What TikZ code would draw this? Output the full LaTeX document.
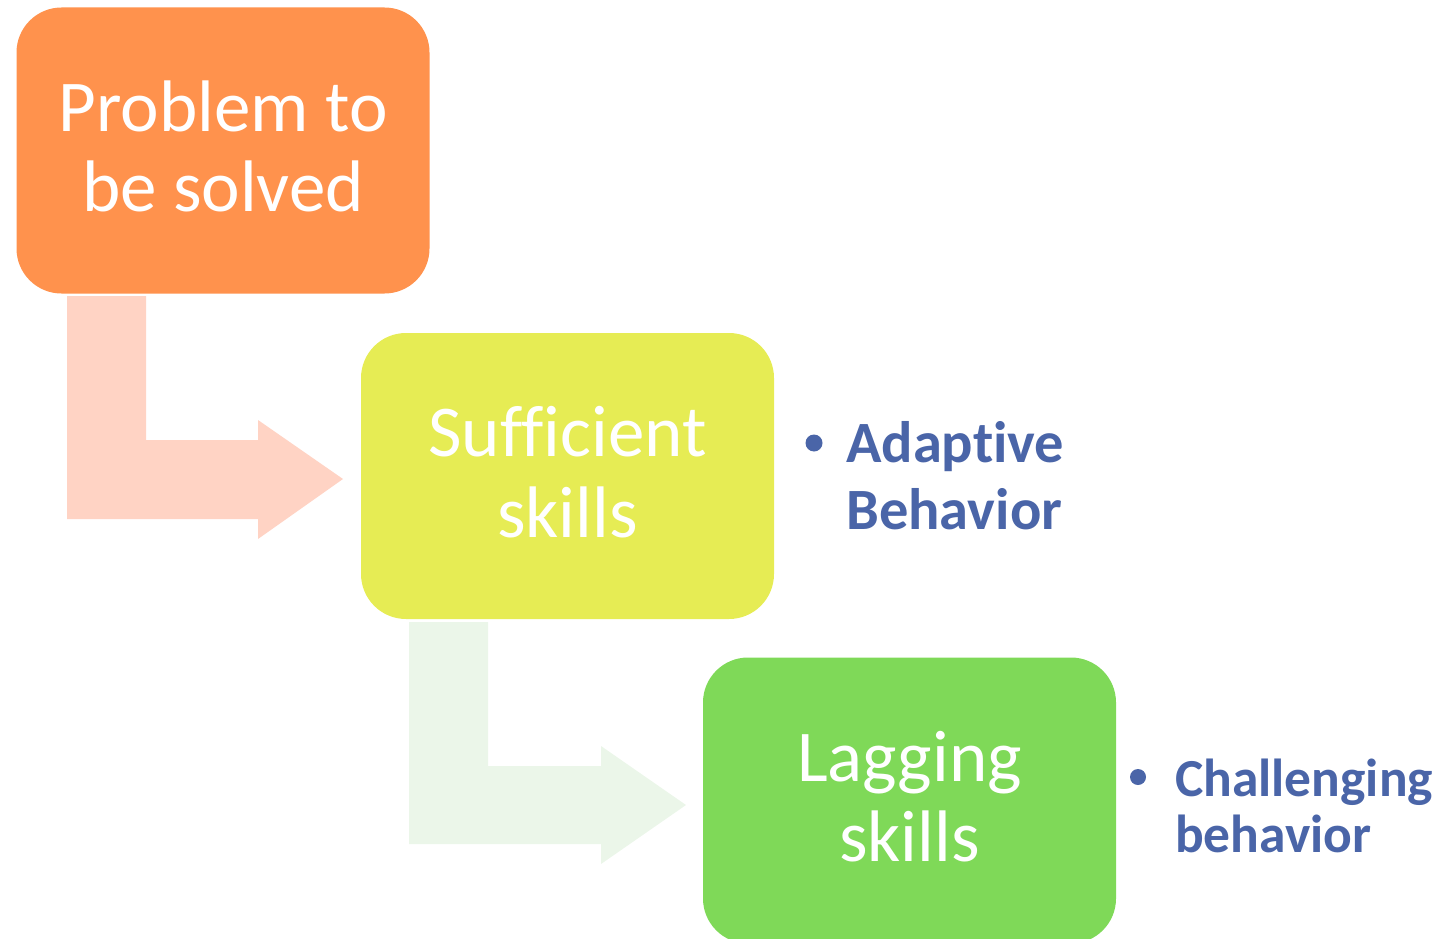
\documentclass[tikz,border=0pt]{standalone}
\usepackage{fontspec}
\setmainfont{Carlito}[Ligatures=NoCommon]
\definecolor{boxorange}{RGB}{255,146,77}
\definecolor{boxyellow}{RGB}{230,236,84}
\definecolor{boxgreen}{RGB}{127,217,88}
\definecolor{arrowpeach}{RGB}{255,211,196}
\definecolor{arrowmint}{RGB}{235,246,233}
\definecolor{itemblue}{RGB}{74,101,168}
\tikzset{
  stagebox/.style={rectangle, rounded corners=45pt, minimum width=413pt,
    minimum height=286pt, inner sep=0pt},
  stagetext/.style={inner sep=0pt, text=white, align=center, yshift=4pt,
    font=\fontsize{73}{80.5}\selectfont},
  itemtext/.style={anchor=base west, inner sep=0pt, text=itemblue,
    font=\bfseries\fontsize{58.5}{66}\selectfont},
  smallitem/.style={itemtext, font=\bfseries\fontsize{53.5}{57}\selectfont},
  itemdot/.style={circle, fill=itemblue, minimum size=17pt, inner sep=0pt},
}
\begin{document}
\begin{tikzpicture}[x=1pt,y=-1pt]
\useasboundingbox (0,0) rectangle (1443,939);
\clip (0,0) rectangle (1443,939);

% bent block arrows between the stages
\fill[arrowpeach] (67,296) -- (146,296) -- (146,440) -- (258,440) -- (258,420)
  -- (343,479) -- (258,539) -- (258,519) -- (67,519) -- cycle;
\fill[arrowmint] (409,622) -- (488,622) -- (488,766) -- (601,766) -- (601,746)
  -- (686,805) -- (601,864) -- (601,844) -- (409,844) -- cycle;

% stages
\node[stagebox, fill=boxorange] (problem) at (223,150.5) {};
\node[stagetext] (problemtext) at (problem.center) {Problem to\\be solved};
\node[stagebox, fill=boxyellow] (sufficient) at (567.5,476) {};
\node[stagetext] (sufficienttext) at (sufficient.center) {Sufficient\\skills};
\node[stagebox, fill=boxgreen] (lagging) at (909.5,800.5) {};
\node[stagetext] (laggingtext) at (lagging.center) {Lagging\\skills};

% outcomes
\node[itemdot] (dotA) at (814,443) {};
\node[itemtext] (adaptive1) at (846,462) {Adaptive};
\node[itemtext] (adaptive2) at (846,529) {Behavior};

\node[itemdot, minimum size=16pt] (dotB) at (1138,777) {};
\node[smallitem] (challenge1) at (1175,796) {Challenging};
\node[smallitem] (challenge2) at (1175,852) {behavior};
\end{tikzpicture}
\end{document}
